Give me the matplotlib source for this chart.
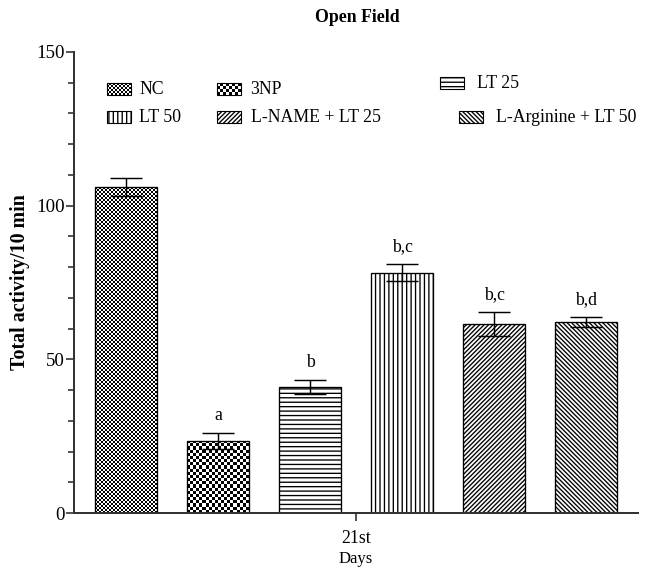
import numpy as np
import matplotlib
matplotlib.use('Agg')
import matplotlib.pyplot as plt
from matplotlib.patches import Rectangle
from matplotlib.ticker import MultipleLocator

# open field totals, mean and SEM per group
groups = ['NC', '3NP', 'LT 25', 'LT 50', 'L-NAME + LT 25', 'L-Arginine + LT 50']
activity = [106.0, 23.5, 41.0, 78.2, 61.5, 62.2]
sem = [3.0, 2.6, 2.4, 2.7, 4.0, 1.7]
letters = ['', 'a', 'b', 'b,c', 'b,c', 'b,d']
day_label = '21st'

DPI = 80
W, H = 660, 567

plt.rcParams['font.family'] = ['Liberation Serif', 'DejaVu Serif']
plt.rcParams['hatch.color'] = 'black'
plt.rcParams['hatch.linewidth'] = 1.2

# fill per group: checker cell size in px, or a hatch string
fills = [('checker', 2.0), ('checker', 3.1), ('hatch', '---'),
         ('hatch', '|||'), ('hatch', '//////'), ('hatch', '\\' * 6)]

# legend layout in figure pixels: swatch left, row centre, text left
legend_slots = [(107, 89, 139), (217, 89, 250), (440, 83, 477),
                (107, 117, 139), (217, 117, 251), (459, 117, 496)]


def checker_img(nx, ny):
    return (np.add.outer(np.arange(ny), np.arange(nx)) % 2).astype(float)


def add_checker(axis, patch, cell, px_w, px_h):
    bb = patch.get_bbox()
    nx = max(1, int(round(px_w / cell)))
    ny = max(1, int(round(px_h / cell)))
    im = axis.imshow(checker_img(nx, ny), cmap='gray', vmin=0, vmax=1,
                     extent=(bb.x0, bb.x1, bb.y0, bb.y1), aspect='auto',
                     interpolation='nearest', zorder=patch.get_zorder() - 0.1)
    im.set_clip_path(patch)


fig = plt.figure(figsize=(W / DPI, H / DPI), dpi=DPI)
ax = fig.add_axes([74 / W, 1 - 513 / H, (638 - 74) / W, (513 - 52) / H])

x = np.arange(len(groups))
width = 0.67
xlim = (-0.565, len(groups) - 1 + 0.565)
ylim = (0, 150)

bars = ax.bar(x, activity, width, facecolor='white', edgecolor='black',
              linewidth=1.2, zorder=2)

px_per_x = (638 - 74) / (xlim[1] - xlim[0])
px_per_y = (513 - 52) / (ylim[1] - ylim[0])
for bar, (kind, spec) in zip(bars, fills):
    if kind == 'checker':
        bar.set_facecolor('none')
        add_checker(ax, bar, spec, bar.get_width() * px_per_x,
                    bar.get_height() * px_per_y)
    else:
        bar.set_hatch(spec)

ax.errorbar(x, activity, yerr=sem, fmt='none', ecolor='black',
            elinewidth=1.3, capsize=14, capthick=1.3, zorder=3)

for xi, v, e, lab in zip(x, activity, sem, letters):
    if lab:
        ax.annotate(lab, (xi, v + e), xytext=(0, 8), textcoords='offset points',
                    ha='center', va='bottom', fontsize=16)

ax.set_xlim(*xlim)
ax.set_ylim(*ylim)

ax.set_xticks([x.mean()])
ax.set_xticklabels([day_label])
ax.yaxis.set_major_locator(MultipleLocator(50))
ax.yaxis.set_minor_locator(MultipleLocator(10))
ax.tick_params(axis='both', which='major', length=7, width=1.5,
               labelsize=17, color='#333333')
ax.tick_params(axis='y', which='minor', length=5, width=1.5, color='#333333')
ax.tick_params(axis='y', pad=1)
ax.tick_params(axis='x', pad=8, labelsize=16)

for side in ['top', 'right']:
    ax.spines[side].set_visible(False)
for side in ['left', 'bottom']:
    ax.spines[side].set_color('#333333')
    ax.spines[side].set_linewidth(1.8)

ax.set_xlabel('Days', fontsize=15, va='baseline')
ax.xaxis.set_label_coords(0.5, -(563 - 513) / (513 - 52))
ax.set_ylabel('Total activity/10 min', fontsize=18, fontweight='bold')
ax.yaxis.set_label_coords(-0.078, 0.5)

fig.text(357 / W, 1 - 18 / H, 'Open Field', ha='center', va='center',
         fontsize=16, fontweight='bold')

# legend drawn on a pixel-space overlay, two rows of three
lax = fig.add_axes([0, 0, 1, 1])
lax.set_xlim(0, W)
lax.set_ylim(H, 0)
lax.axis('off')
sw, sh = 24, 12
for name, (kind, spec), (sx, sy, tx) in zip(groups, fills, legend_slots):
    sq = Rectangle((sx, sy - sh / 2), sw, sh, facecolor='white',
                   edgecolor='black', linewidth=1.0, zorder=2)
    lax.add_patch(sq)
    if kind == 'checker':
        sq.set_facecolor('none')
        add_checker(lax, sq, spec, sw, sh)
    else:
        sq.set_hatch(spec)
    lax.text(tx, sy, name, va='center', ha='left', fontsize=16)
lax.set_xlim(0, W)
lax.set_ylim(H, 0)

fig.savefig('out.png', dpi=DPI)
